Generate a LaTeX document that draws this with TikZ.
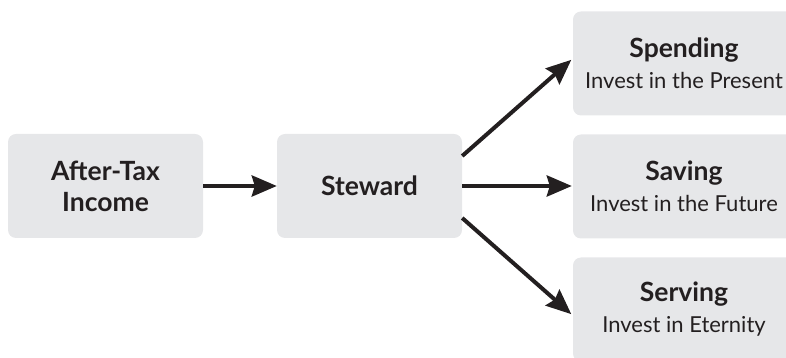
\documentclass[tikz,border=0pt]{standalone}
\usepackage{fontspec}
\setmainfont{Lato}
\usetikzlibrary{arrows.meta}
\definecolor{boxgray}{HTML}{E6E7E9}
\definecolor{ink}{HTML}{231F20}

\begin{document}
\begin{tikzpicture}[x=1pt, y=1pt, >={Stealth[length=25pt, width=21pt, inset=3pt]},
    box/.style={fill=boxgray, rounded corners=8pt, inner sep=0pt, align=center, text=ink,
      minimum height=104pt, font=\fontsize{26.5}{31}\selectfont\bfseries},
    flow/.style={->, ink, line width=4pt}]
  \useasboundingbox (0,0) rectangle (786,358);
  \clip (0,0) rectangle (786,358);
  \node[box, minimum width=195pt] (income) at (105.5,172) {After-Tax\\Income};
  \node[box, minimum width=185pt] (steward) at (369.5,172) {Steward};
  \node[box, minimum width=222pt] (spending) at (684,294.5)
    {Spending\\{\fontsize{22}{31}\selectfont\mdseries Invest in the Present}};
  \node[box, minimum width=222pt] (saving) at (684,171.5)
    {Saving\\{\fontsize{22}{31}\selectfont\mdseries Invest in the Future}};
  \node[box, minimum width=222pt] (serving) at (684,48.5)
    {Serving\\{\fontsize{22}{31}\selectfont\mdseries Invest in Eternity}};
  \draw[flow] (income) -- (steward);
  \draw[flow, shorten >=2pt] ([yshift=30pt]steward.east) -- ([yshift=5pt]spending.west);
  \draw[flow, shorten >=1pt] (steward.east) -- (steward.east -| saving.west);
  \draw[flow, shorten >=2pt] ([yshift=-32pt]steward.east) -- ([yshift=-6pt]serving.west);
\end{tikzpicture}
\end{document}
